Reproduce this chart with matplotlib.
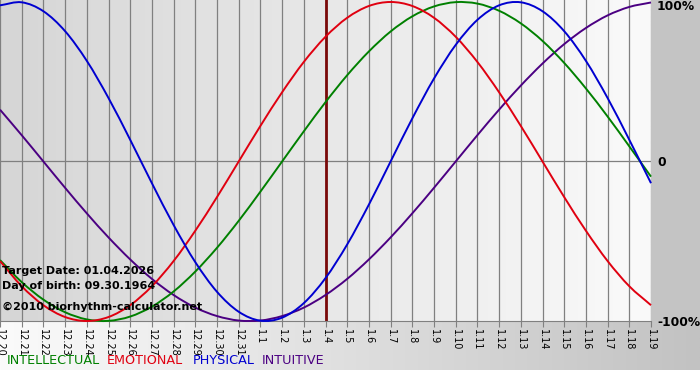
import numpy as np
import matplotlib
matplotlib.use('Agg')
import matplotlib.pyplot as plt
from matplotlib.colors import LinearSegmentedColormap
from matplotlib.patches import Rectangle, PathPatch
from matplotlib.path import Path

# 날짜 (12.20 ~ 1.19)
days = ['12.20', '12.21', '12.22', '12.23', '12.24', '12.25', '12.26', '12.27',
        '12.28', '12.29', '12.30', '12.31', '1.1', '1.2', '1.3', '1.4', '1.5',
        '1.6', '1.7', '1.8', '1.9', '1.10', '1.11', '1.12', '1.13', '1.14',
        '1.15', '1.16', '1.17', '1.18', '1.19']
target_idx = 15  # 1.4

# 각 리듬 값 (-1 ~ 1)
physical = [0.979, 0.998, 0.942, 0.817, 0.631, 0.398, 0.136, -0.136, -0.398, -0.631,
            -0.817, -0.942, -0.998, -0.979, -0.888, -0.731, -0.520, -0.270, 0.0, 0.270,
            0.520, 0.731, 0.888, 0.979, 0.998, 0.942, 0.817, 0.631, 0.398, 0.136, -0.136]
emotional = [-0.624, -0.782, -0.901, -0.975, -1.0, -0.975, -0.901, -0.782, -0.624, -0.434,
             -0.223, 0.0, 0.223, 0.434, 0.624, 0.782, 0.901, 0.975, 1.0, 0.975,
             0.901, 0.782, 0.624, 0.434, 0.223, 0.0, -0.223, -0.434, -0.624, -0.782, -0.901]
intellectual = [-0.618, -0.756, -0.866, -0.945, -0.990, -0.999, -0.972, -0.910, -0.815, -0.690,
                -0.541, -0.372, -0.189, 0.0, 0.189, 0.372, 0.541, 0.690, 0.815, 0.910,
                0.972, 0.999, 0.990, 0.945, 0.866, 0.756, 0.618, 0.458, 0.282, 0.095, -0.095]
intuitive = [0.325, 0.165, 0.0, -0.165, -0.325, -0.476, -0.614, -0.736, -0.837, -0.916,
             -0.969, -0.997, -0.997, -0.969, -0.916, -0.837, -0.736, -0.614, -0.476, -0.325,
             -0.165, 0.0, 0.165, 0.325, 0.476, 0.614, 0.736, 0.837, 0.916, 0.969, 0.997]

GREEN, RED, BLUE, PURPLE = '#008000', '#e00010', '#0000d0', '#4b0082'

W, H = 700, 380

def px(x, y):
    return x / W, 1 - y / H

def smooth_path(xs, ys):
    # 점들을 지나는 부드러운 곡선 (Catmull-Rom -> 베지어)
    pts = np.column_stack([xs, ys]).astype(float)
    ext = np.vstack([2 * pts[0] - pts[1], pts, 2 * pts[-1] - pts[-2]])
    verts = [pts[0]]
    codes = [Path.MOVETO]
    for i in range(len(pts) - 1):
        p0, p1, p2, p3 = ext[i], ext[i + 1], ext[i + 2], ext[i + 3]
        verts += [p1 + (p2 - p0) / 6, p2 - (p3 - p1) / 6, p2]
        codes += [Path.CURVE4] * 3
    return Path(verts, codes)

fig = plt.figure(figsize=(7, 3.8), dpi=100)
fig.patch.set_facecolor('white')

# 배경 (아래 띠 + 오른쪽 회색 여백)
bg = fig.add_axes([0, 0, 1, 1], zorder=-1)
bg.imshow(np.linspace(0, 1, 256)[None, :], extent=(0, W, 370, 321), aspect='auto',
          cmap=LinearSegmentedColormap.from_list('band', ['#fbfbfb', '#c2c2c2']))
bg.add_patch(Rectangle((651, 0), 49, 321, color='#c4c4c4', lw=0))
bg.set_xlim(0, W)
bg.set_ylim(H, 0)
bg.axis('off')

# 메인 차트
ax = fig.add_axes([0, 1 - 321 / H, 651 / W, 321 / H])
x = np.arange(len(days))
ax.imshow(np.linspace(0, 1, 256)[None, :], extent=(0, 30, -1, 1.0125), aspect='auto',
          cmap=LinearSegmentedColormap.from_list('plot', ['#d6d6d6', '#fafafa']), zorder=0)
ax.set_xlim(0, 30)
ax.set_ylim(-1, 1.0125)

for xi in x:
    ax.axvline(xi, color='#808080', lw=0.9, zorder=1)
ax.axhline(0, color='#808080', lw=0.9, zorder=1)
ax.axvline(target_idx, color='#7a0a0a', lw=2.0, zorder=2)

for vals, c in [(intuitive, PURPLE), (intellectual, GREEN), (emotional, RED), (physical, BLUE)]:
    ax.add_patch(PathPatch(smooth_path(x, vals), fill=False, edgecolor=c, lw=1.4,
                           zorder=3, clip_on=False))

for s in ['top', 'left', 'right']:
    ax.spines[s].set_visible(False)
ax.spines['bottom'].set_color('#808080')
ax.set_yticks([])
ax.set_xticks(x)
ax.set_xticklabels(days, rotation=270, fontsize=7)
ax.tick_params(axis='x', length=4, color='#808080', pad=2)

# 오른쪽 눈금 라벨
for y, t in [(6, '100%'), (162, '0'), (322, '-100%')]:
    fig.text(*px(657, y), t, fontsize=8.8, fontweight='bold', va='center', ha='left')

# 정보 텍스트
fig.text(*px(2, 271), 'Target Date: 01.04.2026', fontsize=8, fontweight='bold', va='center')
fig.text(*px(2, 286), 'Day of birth: 09.30.1964', fontsize=8, fontweight='bold', va='center')
fig.text(*px(2, 307), '\u00a92010 biorhythm-calculator.net', fontsize=8, fontweight='bold', va='center')

# 범례
for xx, t, c in [(7, 'INTELLECTUAL', GREEN), (107, 'EMOTIONAL', RED),
                 (193, 'PHYSICAL', BLUE), (262, 'INTUITIVE', PURPLE)]:
    fig.text(*px(xx, 361), t, fontsize=9.2, color=c, va='center')

fig.savefig('out.png', dpi=100)
